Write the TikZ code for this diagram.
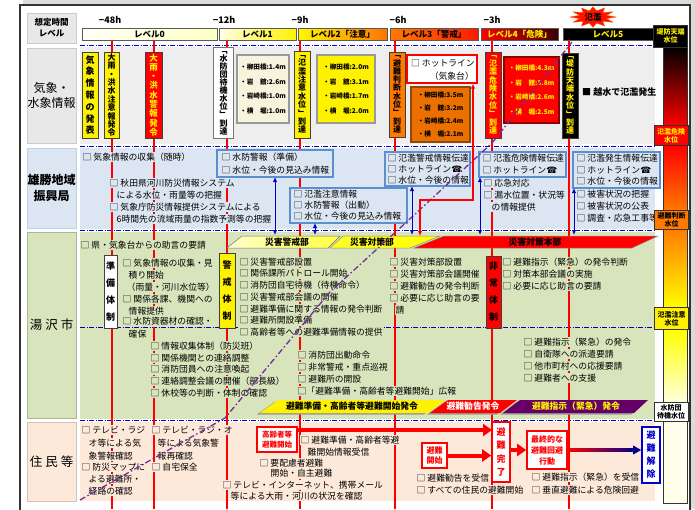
\documentclass[tikz,border=0pt]{standalone}
\usepackage{fontspec}
\setmainfont{Noto Sans CJK JP}
\newfontfamily\djv{DejaVu Sans}
\usetikzlibrary{arrows.meta,calc}
\definecolor{bgO}{HTML}{EEEEEE}
\definecolor{bgB}{HTML}{DCE6F2}
\definecolor{bgG}{HTML}{D8E4BC}
\definecolor{bgP}{HTML}{FDE9D9}
\definecolor{lbO}{HTML}{E8E8E8}
\definecolor{oran}{HTML}{FF7A00}
\definecolor{dorn}{HTML}{8A4A10}
\definecolor{purp}{HTML}{660066}
\definecolor{pline}{HTML}{7A2A9A}
\definecolor{cream}{HTML}{F7F3DC}
\definecolor{bbl}{HTML}{5B8FD0}
\definecolor{dred}{HTML}{3A0000}
\newcommand{\tel}{{\djv ☎}}
\newcommand{\txl}[5]{\node[#2] (#1) at (#3,#4) {#5};}
\tikzset{
  tx/.style={anchor=west, inner xsep=0.5pt, inner ysep=1.1pt, font=\fontsize{8.8}{10}\selectfont},
  txO/.style={tx, fill=bgO},
  txB/.style={tx, fill=bgB},
  txG/.style={tx, fill=bgG},
  txP/.style={tx, fill=bgP},
  rline/.style={red, line width=2pt},
  sepline/.style={blue!75!black, line width=0.7pt, dash pattern=on 5pt off 1.5pt on 1pt off 1.5pt},
  vbox/.style={draw=black!75, line width=0.9pt, inner sep=0pt, align=center},
  wbox/.style={line width=1.3pt, inner sep=0pt, align=left, font=\fontsize{6.6}{14.7}\selectfont\bfseries},
  bbox/.style={draw=bbl, line width=1.1pt, fill=bgB, outer sep=0pt, inner sep=0pt},
  rowlbl/.style={draw=black!20, line width=0.8pt, align=center, inner sep=0pt, minimum width=49pt},
  lvl/.style={draw=black!65, line width=0.6pt, inner sep=0pt, minimum height=12pt, font=\fontsize{8.5}{10}\selectfont\bfseries},
  gauge/.style={draw=black!80, line width=0.8pt, inner sep=0pt, align=center, minimum width=34pt, font=\fontsize{7}{8}\selectfont\bfseries},
  barrow/.style={blue!75!black, line width=1pt, {Latex[length=5pt,width=4.5pt]}-{Latex[length=5pt,width=4.5pt]}},
  harrow/.style={red, line width=1.2pt, {Latex[length=5pt,width=4.5pt]}-{Latex[length=5pt,width=4.5pt]}},
  bigarrow/.style={red, line width=4pt, -{Triangle[length=9pt,width=12pt]}},
  rbox/.style={draw=red, line width=1.6pt, fill=white, text=red, align=center, inner sep=1pt, font=\fontsize{8}{10}\selectfont\bfseries},
  bantext/.style={inner sep=0pt, font=\fontsize{8.8}{10}\selectfont\bfseries},
  hlab/.style={inner sep=0pt, font=\fontsize{9}{10}\selectfont\bfseries},
}
\begin{document}
\begin{tikzpicture}[x=1pt,y=-1pt]
\useasboundingbox (0,0) rectangle (695,509);
% frame and shadow
\fill[black!14] (23,0) rectangle (695,509);
\draw[line width=2pt, black!80, fill=white] (20,5) rectangle (690,515);
% row label boxes
\node[rowlbl, fill=lbO, minimum height=30pt, font=\fontsize{8.5}{11}\selectfont\bfseries] (lh) at (51.5,28) {想定時間\\レベル};
\node[rowlbl, fill=lbO, minimum height=95pt, font=\fontsize{12}{15.5}\selectfont] (lq) at (51.5,95.5) {気象・\\水象情報};
\node[rowlbl, fill=bgB, draw=bbl!40, minimum height=80pt, font=\fontsize{12}{15.5}\selectfont\bfseries] (lo) at (51.5,188) {雄勝地域\\振興局};
\node[rowlbl, fill=bgG, draw=bgG!80!black, minimum height=186pt, font=\fontsize{12.5}{15}\selectfont] (ly) at (51.5,325) {湯\hspace{3pt}沢\hspace{3pt}市};
\node[rowlbl, fill=bgP, draw=bgP!85!black, minimum height=79pt, font=\fontsize{12.5}{15}\selectfont] (lj) at (51.5,461.5) {住\hspace{3pt}民\hspace{3pt}等};
% row backgrounds
\fill[bgO] (80,47) rectangle (655,144);
\fill[bgB] (80,148) rectangle (655,229);
\fill[bgG] (80,232) rectangle (655,419);
\fill[bgP] (80,422) rectangle (655,501);
% separators
\draw[sepline] (80,45) -- (655,45);
\draw[sepline] (80,146) -- (655,146);
\draw[sepline] (80,230.5) -- (655,230.5);
\draw[sepline] (80,327) -- (655,327);
\draw[sepline] (80,420.5) -- (655,420.5);
% time red lines
\foreach \x in {112,154,227,300,395,492,569} \draw[rline] (\x,40) -- (\x,509);
% header
\node[hlab] (h48) at (110,20) {−48h};
\node[hlab] (h12) at (224,20) {−12h};
\node[hlab] (h9) at (300,20) {−9h};
\node[hlab] (h6) at (398,20) {−6h};
\node[hlab] (h3) at (492,20) {−3h};
\node[lvl, minimum width=135pt, left color=yellow!3, right color=yellow!22] (lv0) at (149.5,34) {レベル0};
\node[lvl, minimum width=77pt, left color=yellow!10, right color=yellow!90!orange] (lv1) at (257.5,34) {レベル1};
\node[lvl, minimum width=89pt, left color=yellow!95!orange, right color=orange!90!red] (lv2) at (342.5,34) {レベル2「注意」};
\node[lvl, minimum width=88pt, left color=oran, right color=red!80!orange] (lv3) at (434,34) {レベル3「警戒」};
\node[lvl, minimum width=77pt, left color=red, right color=dred, text=yellow] (lv4) at (519.5,34) {レベル4「危険」};
\node[lvl, minimum width=90pt, fill=black, text=yellow] (lv5) at (608,34) {レベル5};
\fill[red!85!orange, draw=orange!70!red, line width=0.4pt] (616,17) \foreach \i/\r in {1/14,2/23,3/14,4/23,5/14,6/23,7/14,8/23,9/14,10/23,11/14,12/23,13/14,14/23,15/14,16/23,17/14,18/23,19/14,20/23,21/14,22/23,23/14} { -- ({593+\r*cos(\i*15)},{17+0.45*\r*sin(\i*15)}) } -- cycle;
\node[inner sep=0pt, font=\fontsize{8.5}{9}\selectfont\bfseries] (fl) at (593,17) {氾濫};
% weather row
\node[vbox, fill=yellow, minimum width=16pt, minimum height=86pt, font=\fontsize{9}{11.8}\selectfont\bfseries] (v1) at (90,95) {気\\象\\情\\報\\の\\発\\表};
\node[vbox, fill=yellow, minimum width=15pt, minimum height=86pt, font=\fontsize{8}{8.4}\selectfont\bfseries] (v2) at (111.5,95) {大\\雨\\・\\洪\\水\\注\\意\\報\\発\\令};
\node[vbox, fill=red, text=yellow, minimum width=17pt, minimum height=86pt, font=\fontsize{8.5}{9.3}\selectfont\bfseries] (v3) at (153.5,95) {大\\雨\\・\\洪\\水\\警\\報\\発\\令};
\node[vbox, fill=white, draw=black!55, line width=1.5pt, minimum width=20pt, minimum height=91pt, font=\fontsize{8}{8.1}\selectfont\bfseries] (v4) at (223.5,93) {﹁\\水\\防\\団\\待\\機\\水\\位\\﹂\\到\\達};
\node[wbox, fill=cream, draw=black!40, minimum width=52pt, minimum height=68pt] (w1) at (263,89) {・柳田橋:1.4m\\・岩　舘:2.6m\\・岩崎橋:1.0m\\・横　堀:1.0m};
\node[vbox, fill=yellow, minimum width=16pt, minimum height=87pt, font=\fontsize{8}{8.4}\selectfont\bfseries] (v5) at (302,94.5) {﹁\\氾\\濫\\注\\意\\水\\位\\﹂\\到\\達};
\node[wbox, fill=yellow, draw=black!40, minimum width=58pt, minimum height=68pt] (w2) at (346,89) {・柳田橋:2.0m\\・岩　舘:3.1m\\・岩崎橋:1.7m\\・横　堀:2.0m};
\node[vbox, fill=oran, minimum width=16pt, minimum height=85pt, font=\fontsize{8}{8.3}\selectfont\bfseries] (v6) at (397,94.5) {﹁\\避\\難\\判\\断\\水\\位\\﹂\\到\\達};
\node[draw=red, line width=1.3pt, fill=white, minimum width=70pt, minimum height=28pt, inner sep=0pt] (hot) at (442,69) {};
\node[anchor=west, inner sep=0pt, font=\fontsize{8.8}{10}\selectfont] (hot1) at (411,63) {□ ホットライン};
\node[anchor=east, inner sep=0pt, font=\fontsize{8.8}{10}\selectfont] (hot2) at (474,76) {（気象台）};
\node[wbox, fill=oran!92!black, draw=dorn, font=\fontsize{6.6}{13}\selectfont\bfseries, minimum width=59pt, minimum height=55pt] (w3) at (440.5,114.5) {・柳田橋:3.5m\\・岩　舘:3.2m\\・岩崎橋:2.4m\\・横　堀:2.1m};
\node[vbox, fill=red, text=yellow, minimum width=16pt, minimum height=86pt, font=\fontsize{8}{8.4}\selectfont\bfseries] (v7) at (493,95) {﹁\\氾\\濫\\危\\険\\水\\位\\﹂\\到\\達};
\node[wbox, fill=red, text=yellow, draw=red!55!black, minimum width=55pt, minimum height=66pt] (w4) at (531.5,90) {・柳田橋:4.3m\\・岩　舘:3.8m\\・岩崎橋:2.6m\\・横　堀:2.5m};
\node[vbox, fill=black, text=yellow, minimum width=16pt, minimum height=85pt, font=\fontsize{8}{8.4}\selectfont\bfseries] (v8) at (570,95.5) {﹁\\堤\\防\\天\\端\\水\\位\\﹂\\到\\達};
\node[anchor=west, inner sep=0pt, font=\fontsize{9}{10}\selectfont\bfseries] (ov) at (582,92) {■ 越水で氾濫発生};
% Ogachi row
\node[bbox, minimum width=116pt, minimum height=27pt] (bb1) at (275,163.5) {};
\node[bbox, minimum width=117pt, minimum height=35pt] (bb2) at (348.5,205.5) {};
\node[bbox, minimum width=85pt, minimum height=34pt] (bb3) at (427.5,169) {};
\node[bbox, minimum width=87pt, minimum height=25pt] (bb4) at (522.5,164.5) {};
\node[bbox, minimum width=87pt, minimum height=36pt] (bb5) at (616.5,170) {};
\txl{o1}{txB}{82}{157}{□ 気象情報の収集（随時）}
\txl{o2}{txB}{221}{157}{□ 水防警報（準備）}
\txl{o3}{txB}{221}{170}{□ 水位・今後の見込み情報}
\txl{o4}{txB}{109}{183}{□ 秋田県河川防災情報システム}
\txl{o5}{txB}{116}{195}{による水位・雨量等の把握}
\txl{o6}{txB}{109}{207}{□ 気象庁防災情報提供システムによる}
\txl{o7}{txB}{116}{219}{6時間先の流域雨量の指数予測等の把握}
\txl{o8}{txB}{293}{194}{□ 氾濫注意情報}
\txl{o9}{txB}{293}{205.5}{□ 水防警報（出動）}
\txl{o10}{txB}{293}{216.5}{□ 水位・今後の見込み情報}
\txl{o11}{txB}{387}{158}{□ 氾濫警戒情報伝達}
\txl{o12}{txB}{387}{169.5}{□ ホットライン\tel}
\txl{o13}{txB}{387}{180.5}{□ 水位・今後の情報}
\txl{o14}{txB}{482}{158}{□ 氾濫危険情報伝達}
\txl{o15}{txB}{482}{170}{□ ホットライン\tel}
\txl{o16}{txB}{483}{183}{□ 応急対応}
\txl{o17}{txB}{483}{195}{□ 漏水位置・状況等}
\txl{o18}{txB}{491}{207}{の情報提供}
\txl{o19}{txB}{576}{158}{□ 氾濫発生情報伝達}
\txl{o20}{txB}{576}{170}{□ ホットライン\tel}
\txl{o21}{txB}{576}{181.5}{□ 水位・今後の情報}
\txl{o22}{txB}{576}{194}{□ 被害状況の把握}
\txl{o23}{txB}{576}{206}{□ 被害状況の公表}
\txl{o24}{txB}{576}{218}{□ 調査・応急工事等}
\foreach \b in {bb1,bb2,bb3,bb4,bb5} \draw[bbl, line width=1.1pt] (\b.south west) rectangle (\b.north east);
% Yuzawa row banners
\shade[left color=yellow!20, right color=yellow!75, draw=black!55, line width=0.5pt] (227,248) -- (242,236) -- (340,236) -- (328,248) -- cycle;
\shade[left color=yellow!85, right color=yellow, draw=black!45, line width=0.5pt] (330,248) -- (343,236) -- (440,236) -- (410,248) -- cycle;
\fill[red, draw=black!45, line width=0.5pt] (414,248) -- (444,236) -- (658,236) -- (632,248) -- cycle;
\node[bantext] (bn1) at (287,242) {災害警戒部};
\node[bantext] (bn2) at (372,242) {災害対策部};
\node[bantext] (bn3) at (535,242) {災害対策本部};
% Yuzawa texts
\txl{y1}{txG}{80}{245}{□ 県・気象台からの助言の要請}
\txl{y2}{txG}{122}{263}{□ 気象情報の収集・見}
\txl{y3}{txG}{128}{275}{積り開始}
\txl{y4}{txG}{126}{287}{（雨量・河川水位等）}
\txl{y5}{txG}{122}{299}{□ 関係各課、機関への}
\txl{y6}{txG}{128}{311}{情報提供}
\txl{y7}{txG}{122}{321.5}{□ 水防資器材の確認・}
\txl{y8}{txG}{128}{334}{確保}
\txl{y9}{txG}{239}{262}{□ 災害警戒部設置}
\txl{y10}{txG}{239}{273.5}{□ 関係課所パトロール開始}
\txl{y11}{txG}{239}{285}{□ 消防団自宅待機（待機命令）}
\txl{y12}{txG}{239}{297}{□ 災害警戒部会議の開催}
\txl{y13}{txG}{239}{309}{□ 避難準備に関する情報の発令判断}
\txl{y14}{txG}{239}{320.5}{□ 避難所開設準備}
\txl{y15}{txG}{239}{332}{□ 高齢者等への避難準備情報の提供}
\txl{y16}{txG}{389}{262}{□ 災害対策部設置}
\txl{y17}{txG}{389}{274}{□ 災害対策部会議開催}
\txl{y18}{txG}{389}{286}{□ 避難勧告の発令判断}
\txl{y19}{txG}{389}{298}{□ 必要に応じ助言の要}
\txl{y20}{txG}{395}{310}{請}
\txl{y21}{txG}{502}{262}{□ 避難指示（緊急）の発令判断}
\txl{y22}{txG}{502}{274}{□ 対策本部会議の実施}
\txl{y23}{txG}{502}{286}{□ 必要に応じ助言の要請}
\txl{y24}{txG}{150}{346}{□ 情報収集体制（防災班）}
\txl{y25}{txG}{150}{358}{□ 関係機関との連絡調整}
\txl{y26}{txG}{150}{369.5}{□ 消防団員への注意喚起}
\txl{y27}{txG}{150}{381}{□ 連絡調整会議の開催（部長級）}
\txl{y28}{txG}{150}{393}{□ 休校等の判断・体制の確認}
\txl{y29}{txG}{297}{355}{□ 消防団出動命令}
\txl{y30}{txG}{297}{367}{□ 非常警戒・重点巡視}
\txl{y31}{txG}{297}{379}{□ 避難所の開設}
\txl{y32}{txG}{297}{391}{□「避難準備・高齢者等避難開始」広報}
\txl{y33}{txG}{523}{342}{□ 避難指示（緊急）の発令}
\txl{y34}{txG}{523}{354}{□ 自衛隊への派遣要請}
\txl{y35}{txG}{523}{366}{□ 他市町村への応援要請}
\txl{y36}{txG}{523}{378}{□ 避難者への支援}
\node[vbox, fill=white, minimum width=13pt, minimum height=73pt, font=\fontsize{9}{17}\selectfont\bfseries] (v9) at (110.5,291.5) {準\\備\\体\\制};
\node[vbox, fill=yellow, minimum width=16pt, minimum height=75pt, font=\fontsize{9}{17}\selectfont\bfseries] (v10) at (227,290.5) {警\\戒\\体\\制};
\node[vbox, fill=red, minimum width=15pt, minimum height=72pt, font=\fontsize{9}{17}\selectfont\bfseries] (v11) at (493.5,292) {非\\常\\体\\制};
% lower banners
\fill[black!40] (257,414.5) -- (275,401.5) -- (442,401.5) -- (424,414.5) -- cycle;
\fill[yellow] (260,413) -- (278,400) -- (445,400) -- (428,413) -- cycle;
\fill[black!40] (427,414.5) -- (445,401.5) -- (514,401.5) -- (497,414.5) -- cycle;
\fill[red] (430,413) -- (448,400) -- (517,400) -- (500,413) -- cycle;
\fill[black!40] (500,414.5) -- (517,401.5) -- (645,401.5) -- (631,414.5) -- cycle;
\fill[purp] (503,413) -- (520,400) -- (648,400) -- (634,413) -- cycle;
\node[bantext] (bn4) at (352,406.5) {避難準備・高齢者等避難開始発令};
\node[bantext, text=white] (bn5) at (473,406.5) {避難勧告発令};
\node[bantext, text=yellow] (bn6) at (576,406.5) {避難指示（緊急）発令};
% residents
\txl{j1}{txP}{81}{430}{□ テレビ・ラジ}
\txl{j2}{txP}{88}{443}{オ等による気}
\txl{j3}{txP}{88}{456}{象警報確認}
\txl{j4}{txP}{81}{467}{□ 防災マップに}
\txl{j5}{txP}{88}{479}{よる避難所・}
\txl{j6}{txP}{88}{491}{経路の確認}
\txl{j7}{txP}{151}{430}{□ テレビ・ラジ・オ}
\txl{j8}{txP}{157}{443}{等による気象警}
\txl{j9}{txP}{157}{456}{報再確認}
\txl{j10}{txP}{151}{467}{□ 自宅保全}
\txl{j11}{txP}{300}{440}{□ 避難準備・高齢者等避}
\txl{j12}{txP}{307}{452}{難開始情報受信}
\txl{j13}{txP}{259}{463}{□ 要配慮者避難}
\txl{j14}{txP}{270}{473.5}{開始・自主避難}
\txl{j15}{txP}{222}{485}{□ テレビ・インターネット、携帯メール}
\txl{j16}{txP}{230}{496}{等による大雨・河川の状況を確認}
\txl{j17}{txP}{416}{478}{□ 避難勧告を受信}
\txl{j18}{txP}{416}{490}{□ すべての住民の避難開始}
\txl{j19}{txP}{531}{477}{□ 避難指示（緊急）を受信}
\txl{j20}{txP}{531}{490}{□ 垂直避難による危険回避}
\node[rbox, minimum width=40pt, minimum height=25pt, font=\fontsize{7.5}{9.5}\selectfont\bfseries] (k) at (277,439.5) {高齢者等\\避難開始};
\node[rbox, minimum width=25pt, minimum height=25pt] (s) at (434.5,455.5) {避難\\開始};
\node[rbox, minimum width=18pt, minimum height=60pt, font=\fontsize{9}{13.5}\selectfont\bfseries] (done) at (501,452) {避\\難\\完\\了};
\node[rbox, minimum width=40pt, minimum height=38pt, font=\fontsize{8}{11}\selectfont\bfseries] (last) at (547,450) {最終的な\\避難回避\\行動};
\node[rbox, draw=blue!80!black, text=blue!80!black, minimum width=18pt, minimum height=56pt, font=\fontsize{9}{13}\selectfont\bfseries] (rel) at (651,455) {避\\難\\解\\除};
\coordinate (a1e) at (492,430);
\draw[bigarrow] (a1e -| k.east) -- (a1e);
\draw[bigarrow] (s.east) -- (s.east -| done.west);
\draw[bigarrow, line width=3.5pt] (last.west -| done.east) -- (last.west);
\shade[left color=red, right color=blue!55!black] ($(last.east)+(0,-1.6)$) rectangle ($(rel.west |- last.east)+(-7,1.6)$);
\fill[blue!55!black] ($(rel.west |- last.east)+(-8,-4.5)$) -- ($(rel.west |- last.east)+(0,0)$) -- ($(rel.west |- last.east)+(-8,4.5)$) -- cycle;
% purple dash-dot line
\draw[pline, line width=1.3pt, dash pattern=on 6pt off 2.5pt on 1.5pt off 2.5pt] (80,500) -- (225,418) -- (330,292) -- (400,228) -- (492,143) -- (572,42);
% hotline connector
\coordinate (hk) at (473,200);
\coordinate (hotend) at (420,236);
\draw[harrow] (hotend) |- (hk) -- (hk |- hot.south);
% blue arrows
\coordinate (ba1) at (275,235);
\coordinate (ba2) at (315,235);
\coordinate (ba3) at (412,235);
\coordinate (ba4) at (480,235);
\coordinate (ba5) at (574,235);
\draw[barrow] (bb1.south -| ba1) -- (ba1);
\draw[barrow] (bb2.south -| ba2) -- (ba2);
\draw[barrow] (bb3.south -| ba3) -- (ba3);
\draw[barrow] (bb4.south -| ba4) -- (ba4);
\draw[barrow] (bb5.south -| ba5) -- (ba5);
% gauge column
\shade[top color=black, bottom color=red] (663,47) rectangle (687,126);
\shade[top color=red, bottom color=oran] (663,145) rectangle (687,211);
\shade[top color=oran, bottom color=yellow] (663,228) rectangle (687,308);
\shade[top color=yellow, bottom color=yellow!12] (663,329) rectangle (687,403);
\fill[yellow!8] (663,421) rectangle (687,503);
\draw[black!80, line width=0.8pt] (663,47) rectangle (687,503);
\node[gauge, fill=black, text=yellow, minimum height=22pt] (g1) at (670.5,36) {堤防天端\\水位};
\node[gauge, fill=red, text=yellow, minimum height=20pt] (g2) at (671,135.5) {氾濫危険\\水位};
\node[gauge, fill=oran, minimum height=19pt] (g3) at (671.5,219.5) {避難判断\\水位};
\node[gauge, fill=yellow, minimum height=22pt] (g4) at (671.5,318.5) {氾濫注意\\水位};
\node[gauge, fill=white, minimum height=19pt] (g5) at (671,411.5) {水防団\\待機水位};
\end{tikzpicture}
\end{document}
